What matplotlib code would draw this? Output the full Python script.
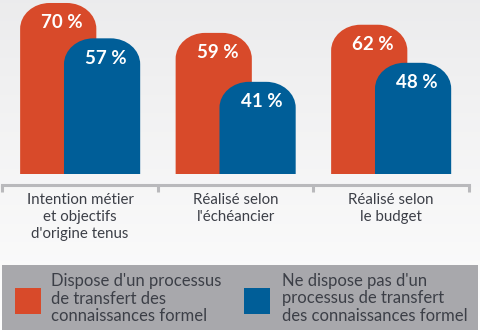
import numpy as np
import matplotlib.pyplot as plt
from matplotlib.path import Path
from matplotlib.patches import PathPatch, Rectangle

categories = ["Intention métier\net objectifs\nd'origine tenus",
              "Réalisé selon\nl'échéancier",
              "Réalisé selon\nle budget"]
avec = [70, 59, 62]
sans = [57, 41, 48]
series_names = ["Dispose d'un processus\nde transfert des\nconnaissances formel",
                "Ne dispose pas d'un\nprocessus de transfert\ndes connaissances formel"]

orange = "#d84a2a"
bleu = "#005e98"
gris_txt = "#3c3f47"

plt.rcParams['font.family'] = ['Lato', 'DejaVu Sans']

fig = plt.figure(figsize=(4.8, 3.3), dpi=100)

# fond en degrade
bg = fig.add_axes([0, 0, 1, 1], zorder=-10)
grad = np.linspace(0, 1, 256).reshape(-1, 1)
top = np.array([0.925, 0.925, 0.93])
bottom = np.array([0.995, 0.995, 0.995])
img = top + (bottom - top) * grad[:, :, None]
bg.imshow(img, aspect='auto', extent=[0, 1, 0, 1])
bg.axis('off')

W, H = 480, 330
ax = fig.add_axes([2.25 / W, (H - 174) / H, (468.75 - 2.25) / W, 174 / H])
ax.patch.set_alpha(0)
ax.set_xlim(-0.5, 2.5)
ax.set_ylim(7.1, 71.1)


def barre(x, w, h, color, z):
    rx, ry = 0.19, 9.5
    k = 0.5523
    x0, x1 = x - w / 2, x + w / 2
    verts = [(x0, 0), (x0, h - ry),
             (x0, h - ry + k * ry), (x0 + rx - k * rx, h), (x0 + rx, h),
             (x1 - rx, h),
             (x1 - rx + k * rx, h), (x1, h - ry + k * ry), (x1, h - ry),
             (x1, 0), (x0, 0)]
    codes = [Path.MOVETO, Path.LINETO,
             Path.CURVE4, Path.CURVE4, Path.CURVE4,
             Path.LINETO,
             Path.CURVE4, Path.CURVE4, Path.CURVE4,
             Path.LINETO, Path.CLOSEPOLY]
    ax.add_patch(PathPatch(Path(verts, codes), facecolor=color,
                           edgecolor='none', zorder=z))


w = 0.49
for i in range(len(categories)):
    for j, (vals, col) in enumerate([(avec, orange), (sans, bleu)]):
        xc = i + (-0.14 if j == 0 else 0.142)
        barre(xc, w, vals[i], col, 2 + j)
        ax.text(xc + 0.025, vals[i] - 7.3, f"{vals[i]} %", color='white',
                fontsize=13.5, fontweight='bold', ha='center',
                va='center', zorder=5)

for s in ['top', 'left', 'right']:
    ax.spines[s].set_visible(False)
ax.spines['bottom'].set_position(('outward', 8))
ax.spines['bottom'].set_color('#b9b9bc')
ax.spines['bottom'].set_linewidth(2.2)
ax.set_yticks([])
ax.set_xticks(range(len(categories)), categories, fontsize=10.8,
              color=gris_txt, linespacing=1.28)
ax.set_xticks([-0.5, 0.5, 1.5, 2.5], minor=True)
ax.tick_params(axis='x', which='major', length=0, pad=5.5)
ax.tick_params(axis='x', which='minor', length=5, width=2.2,
               color='#b9b9bc', direction='out')

# legende
fig.add_artist(Rectangle((2 / W, 0), 476 / W, 65 / H,
                         transform=fig.transFigure, facecolor='#a8a8ac',
                         edgecolor='none'))
for (sx, tx), col, lab in zip([(15, 51), (244, 282)], [orange, bleu],
                              series_names):
    fig.add_artist(Rectangle((sx / W, (H - 314) / H), 26 / W, 26 / H,
                             transform=fig.transFigure, facecolor=col,
                             edgecolor='none'))
    fig.text(tx / W, (H - 298.5) / H, lab, fontsize=12, color=gris_txt,
             va='center', ha='left', linespacing=1.13)

fig.savefig("out.png", dpi=100)
